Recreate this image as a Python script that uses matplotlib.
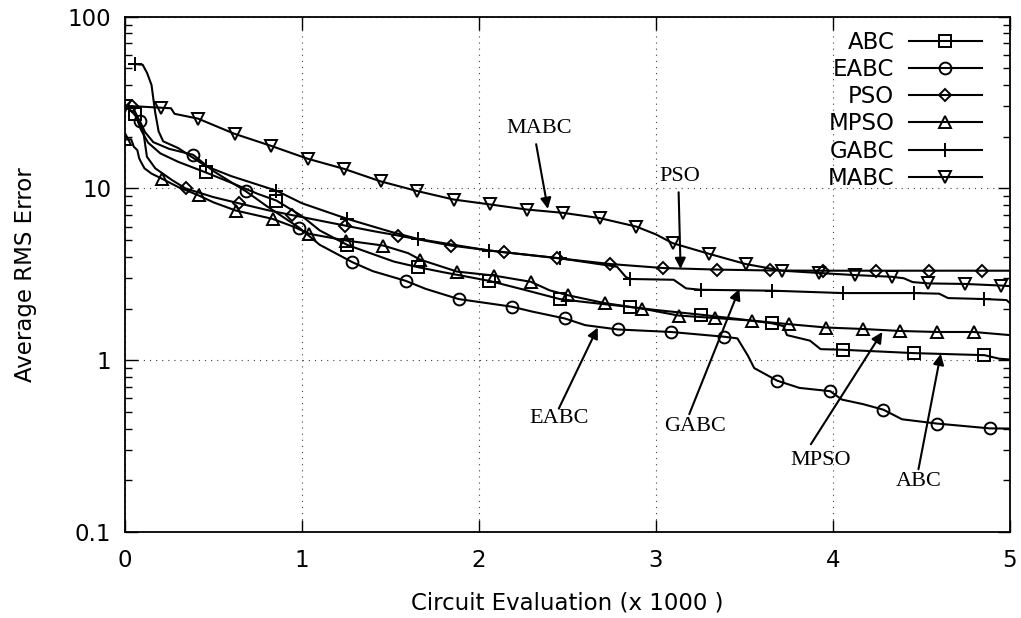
import numpy as np
import matplotlib.pyplot as plt
from matplotlib.ticker import FixedLocator, FuncFormatter, NullFormatter, LogLocator

# best RMS error so far, per algorithm (x in thousands of circuit evaluations)
abc_x = [0.0, 0.056, 0.09, 0.13, 0.2, 0.3, 0.456, 0.6, 0.75, 0.856, 1.0, 1.1, 1.256, 1.4, 1.52, 1.656,
         1.8, 2.056, 2.25, 2.456, 2.6, 2.856, 3.0, 3.256, 3.5, 3.656, 3.72, 3.74, 3.87, 3.93, 4.056,
         4.456, 4.856, 4.94, 5.0]
abc_y = [30.0, 27.3, 22.0, 18.5, 16.0, 14.3, 12.4, 10.8, 9.3, 8.5, 6.9, 5.7, 4.69, 4.15, 3.75, 3.48,
         3.25, 2.90, 2.58, 2.27, 2.18, 2.04, 1.96, 1.84, 1.72, 1.64, 1.58, 1.40, 1.30, 1.16, 1.15,
         1.10, 1.07, 1.02, 1.01]
abc_mk = [0.056 + 0.4 * k for k in range(13)]

eabc_x = [0.0, 0.04, 0.085, 0.113, 0.16, 0.25, 0.385, 0.5, 0.685, 0.8, 0.985, 1.1, 1.285, 1.4, 1.585,
          1.7, 1.885, 2.185, 2.3, 2.485, 2.6, 2.785, 3.085, 3.385, 3.46, 3.52, 3.555, 3.685, 3.81,
          3.985, 4.05, 4.17, 4.285, 4.39, 4.585, 4.885, 5.0]
eabc_y = [30.0, 28.0, 24.6, 21.3, 18.6, 17.0, 15.7, 12.6, 9.6, 7.9, 5.9, 4.7, 3.72, 3.3, 2.9,
          2.6, 2.27, 2.05, 1.92, 1.75, 1.60, 1.51, 1.46, 1.37, 1.34, 1.06, 0.90, 0.76, 0.69,
          0.66, 0.59, 0.555, 0.515, 0.453, 0.428, 0.401, 0.40]
eabc_mk = [0.085 + 0.3 * k for k in range(17)]

pso_x = [0.0, 0.0425, 0.08, 0.105, 0.124, 0.171, 0.265, 0.3425, 0.5, 0.6425, 0.8, 0.9425, 1.1,
         1.2425, 1.4, 1.5425, 1.8425, 2.1425, 2.4425, 2.7425, 3.0425, 3.3425, 3.6425, 3.9425,
         4.2425, 4.5425, 4.8425, 5.0]
pso_y = [30.0, 30.0, 25.0, 20.9, 15.3, 13.1, 11.2, 10.0, 8.9, 8.2, 7.5, 7.0, 6.5,
         6.08, 5.65, 5.32, 4.65, 4.25, 3.93, 3.63, 3.44, 3.37, 3.33, 3.32,
         3.32, 3.32, 3.32, 3.32]
pso_mk = [0.0425 + 0.3 * k for k in range(17)]

mpso_x = [0.0, 0.035, 0.05, 0.07, 0.08, 0.09, 0.11, 0.15, 0.2085, 0.3, 0.417, 0.5, 0.6255, 0.834,
          0.95, 1.0425, 1.251, 1.4595, 1.6, 1.668, 1.8765, 2.085, 2.2935, 2.4, 2.502, 2.7105,
          2.919, 3.1275, 3.336, 3.5445, 3.753, 3.9615, 4.17, 4.3785, 4.587, 4.7955, 5.0]
mpso_y = [19.3, 19.3, 17.5, 16.7, 15.0, 14.3, 13.1, 12.2, 11.4, 10.2, 9.1, 8.3, 7.44, 6.65,
          6.0, 5.44, 4.97, 4.65, 4.2, 3.85, 3.28, 3.11, 2.86, 2.55, 2.39, 2.15,
          2.00, 1.82, 1.76, 1.70, 1.62, 1.55, 1.52, 1.48, 1.46, 1.46, 1.40]
mpso_mk = [0.2085 * k for k in range(24)]

gabc_x = [0.056, 0.1, 0.125, 0.15, 0.17, 0.19, 0.216, 0.3, 0.456, 0.6, 0.856, 1.0, 1.256, 1.5,
          1.656, 2.056, 2.456, 2.7, 2.78, 2.83, 2.856, 3.1, 3.17, 3.256, 3.656, 4.056, 4.456,
          4.6, 4.65, 4.856, 4.98, 5.0]
gabc_y = [53.0, 52.5, 47.0, 40.0, 28.0, 21.5, 18.8, 17.2, 13.5, 11.8, 9.7, 8.2, 6.65, 5.6,
          5.08, 4.35, 3.92, 3.6, 3.5, 3.05, 2.97, 2.94, 2.62, 2.57, 2.54, 2.46, 2.46,
          2.44, 2.30, 2.27, 2.24, 2.15]
gabc_mk = [0.056 + 0.4 * k for k in range(13)]

mabc_x = [0.0, 0.2063, 0.26, 0.28, 0.4126, 0.6189, 0.8252, 1.0315, 1.2378, 1.4441, 1.6504, 1.8567,
          2.063, 2.2693, 2.4756, 2.6819, 2.8882, 3.0, 3.0945, 3.3008, 3.5071, 3.7134, 3.9197,
          4.126, 4.3323, 4.4, 4.45, 4.5386, 4.7449, 4.9512, 5.0]
mabc_y = [30.3, 29.5, 29.3, 27.2, 25.5, 20.8, 17.7, 14.9, 13.0, 11.0, 9.66, 8.62,
          8.07, 7.54, 7.21, 6.72, 6.0, 5.4, 4.80, 4.16, 3.63, 3.32, 3.22,
          3.13, 3.06, 3.0, 2.85, 2.80, 2.78, 2.72, 2.70]
mabc_mk = [0.2063 * k for k in range(25)]

series = [
    ("ABC", abc_x, abc_y, abc_mk, "s", 8.5),
    ("EABC", eabc_x, eabc_y, eabc_mk, "o", 8.5),
    ("PSO", pso_x, pso_y, pso_mk, "D", 6.0),
    ("MPSO", mpso_x, mpso_y, mpso_mk, "^", 8.5),
    ("GABC", gabc_x, gabc_y, gabc_mk, "+", 10.0),
    ("MABC", mabc_x, mabc_y, mabc_mk, "v", 8.5),
]

# arrow labels: (text, text pos, arrow tail, arrow head)
notes = [
    ("MABC", (2.342, 22.2), (2.323, 18.1), (2.389, 7.6)),
    ("PSO", (3.132, 11.7), (3.128, 9.5), (3.139, 3.40)),
    ("EABC", (2.455, 0.46), (2.451, 0.523), (2.671, 1.55)),
    ("GABC", (3.221, 0.41), (3.188, 0.485), (3.471, 2.60)),
    ("MPSO", (3.932, 0.259), (3.875, 0.324), (4.279, 1.46)),
    ("ABC", (4.482, 0.198), (4.483, 0.232), (4.609, 1.09)),
]

fs = 16.5
fig = plt.figure(figsize=(10.21, 6.18), dpi=100)
ax = fig.add_axes([0.1224, 0.1392, 0.8668, 0.8338])

for name, xs, ys, mk, marker, ms in series:
    xs = np.array(xs)
    idx = [int(np.argmin(np.abs(xs - m))) for m in mk]
    ax.plot(xs, ys, color="black", lw=1.5, marker=marker, markersize=ms,
            markerfacecolor="none", markeredgecolor="black", markeredgewidth=1.4,
            markevery=idx, label=name)

for txt, tpos, tail, head in notes:
    ax.text(tpos[0], tpos[1], txt, ha="center", va="center", fontsize=16,
            family=["Liberation Serif", "DejaVu Serif"])
    ax.annotate("", xy=head, xytext=tail,
                arrowprops=dict(arrowstyle="-|>", color="black", lw=1.5,
                                mutation_scale=16, shrinkA=0, shrinkB=0))

ax.set_yscale("log")
ax.set_xlim(0, 5)
ax.set_ylim(0.1, 100)
ax.xaxis.set_major_locator(FixedLocator([0, 1, 2, 3, 4, 5]))
ax.yaxis.set_major_locator(FixedLocator([0.1, 1, 10, 100]))
ax.yaxis.set_major_formatter(FuncFormatter(lambda v, p: "%g" % v))
ax.yaxis.set_minor_locator(LogLocator(base=10, subs=np.arange(2, 10)))
ax.yaxis.set_minor_formatter(NullFormatter())

ax.tick_params(which="both", direction="in", top=True, right=True, labelsize=fs, width=1.0)
ax.tick_params(which="major", length=9)
ax.tick_params(which="minor", length=5)
ax.tick_params(axis="x", pad=12)
ax.tick_params(axis="y", pad=10)
for sp in ax.spines.values():
    sp.set_linewidth(1.3)

ax.grid(True, which="major", color="0.25", lw=0.8, linestyle=(0, (1, 4.5)))

ax.set_xlabel("Circuit Evaluation (x 1000 )", fontsize=fs, labelpad=14)
ax.set_ylabel("Average RMS Error", fontsize=fs, labelpad=22)

ax.legend(loc="upper right", bbox_to_anchor=(0.968, 0.972), markerfirst=False, frameon=False,
          fontsize=fs, handlelength=3.16, handletextpad=0.65, labelspacing=0.18,
          borderpad=0, borderaxespad=0)

fig.savefig("out.png", dpi=100)
